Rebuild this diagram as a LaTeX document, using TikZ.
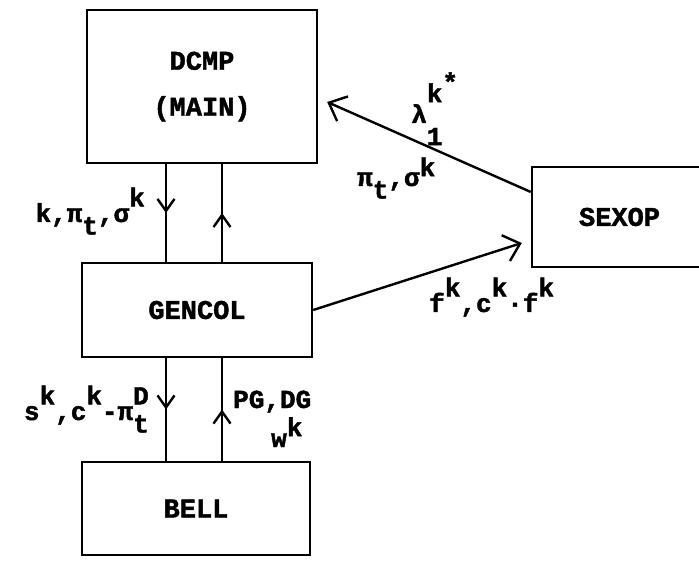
\documentclass[tikz,border=0pt]{standalone}
\usepackage{fontspec}
\setmainfont{Liberation Mono}[BoldFeatures={FakeBold=1.6}]
\usetikzlibrary{arrows.meta,decorations.markings}
\newcommand{\hi}[1]{\raisebox{0.6em}{#1}}
\newcommand{\lo}[1]{\raisebox{-0.48em}{#1}}
\newcommand{\hilo}[2]{\rlap{\lo{#2}}\hi{#1}}

\begin{document}
\begin{tikzpicture}[x=1pt,y=-1pt,line width=2.4pt,
    box/.style={draw,line width=2.4pt,inner sep=0pt,align=center,font=\bfseries\fontsize{27}{46}\selectfont},
    lbl/.style={inner sep=0pt,font=\bfseries\fontsize{26}{28}\selectfont},
    midv/.style={postaction={decorate},decoration={markings,mark=at position 0.5 with {\arrow{Straight Barb[length=12pt,width=17pt]}}}},
    bigv/.style={-{Straight Barb[length=15pt,width=27pt]}}]
  \useasboundingbox (0,0) rectangle (699,561);
  \node[box,minimum width=230,minimum height=153] (dcmp) at (202,86.5) {DCMP\\(MAIN)};
  \node[box,minimum width=230,minimum height=94] (gencol) at (197,310) {GENCOL};
  \node[box,minimum width=228,minimum height=93] (bell) at (196,508.5) {BELL};
  \node[box,minimum width=175,minimum height=100] (sexop) at (619.5,217) {SEXOP};
  \coordinate (xl) at (166,0);
  \coordinate (xr) at (222,0);
  \draw[midv] (dcmp.south -| xl) -- (gencol.north -| xl);
  \draw[midv] (gencol.north -| xr) -- (dcmp.south -| xr);
  \draw[midv] (gencol.south -| xl) -- (bell.north -| xl);
  \draw[midv] (bell.north -| xr) -- (gencol.south -| xr);
  \draw[bigv] ([yshift=25pt]sexop.west) -- ([xshift=9pt,yshift=-15.5pt]dcmp.east);
  \draw[bigv] (gencol.east) -- ([xshift=-9pt,yshift=-26pt]sexop.west);
  \node[lbl,anchor=base east] (lk) at (146,222) {k,π\lo{t},σ\hi{k}};
  \node[lbl,anchor=base east] (ls) at (150,420) {s\hi{k},c\hi{k}-π\hilo{D}{t}};
  \node[lbl,anchor=base west] (lpg) at (232,408) {PG,DG};
  \node[lbl,anchor=base west] (lw) at (270,447) {w\raisebox{0.42em}{k}};
  \node[lbl,anchor=base west] (llam) at (410,123) {λ\rlap{\raisebox{-0.85em}{1}}\raisebox{0.8em}{k\raisebox{0.42em}{*}}};
  \node[lbl,anchor=base west] (lpi) at (356,186) {π\lo{t},σ\raisebox{0.38em}{k}};
  \node[lbl,anchor=base west] (lf) at (428,312) {f\hi{k},c\hi{k}·f\hi{k}};
\end{tikzpicture}
\end{document}
